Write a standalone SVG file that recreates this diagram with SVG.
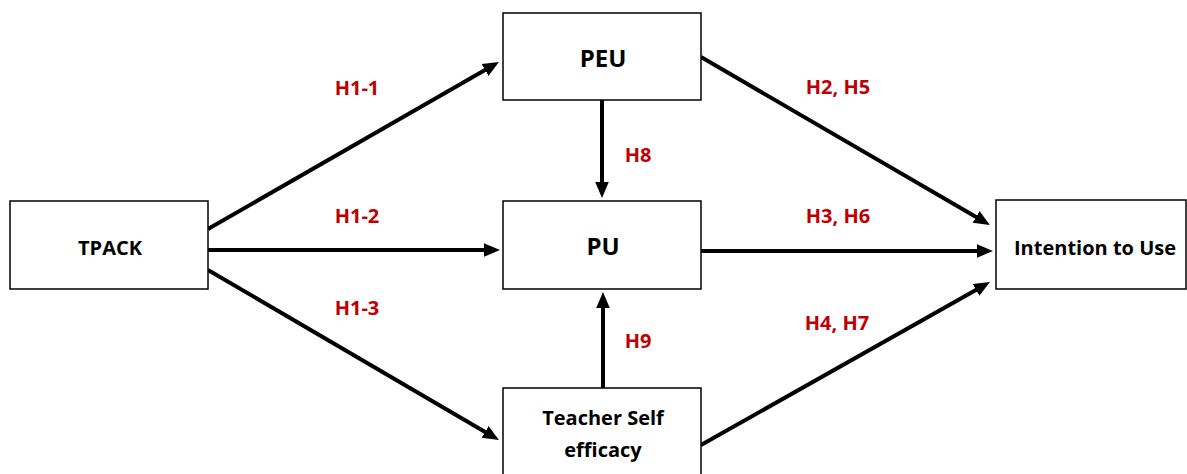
<svg xmlns="http://www.w3.org/2000/svg" width="1187" height="474" viewBox="0 0 1187 474">
<style>
.box{fill:#fff;stroke:#000;stroke-width:1.5}
.t{font-family:"Open Sans","Liberation Sans",sans-serif;font-weight:bold;fill:#000;text-anchor:middle}
.l{font-family:"Open Sans","Liberation Sans",sans-serif;font-weight:bold;fill:#c00000;font-size:20px;text-anchor:middle}
.c{stroke:#000;stroke-width:4;fill:none;marker-end:url(#ah)}
</style>
<defs>
<marker id="ah" markerWidth="4" markerHeight="4" refX="2" refY="2" orient="auto" markerUnits="strokeWidth">
<path d="M0,0.3 L4,2 L0,3.7 Z" fill="#000"/>
</marker>
</defs>
<rect width="1187" height="474" fill="#fff"/>
<g id="connectors">
<line class="c" x1="208" y1="229" x2="492" y2="66"/>
<line class="c" x1="208" y1="250" x2="492" y2="250"/>
<line class="c" x1="208" y1="270" x2="492" y2="436"/>
<line class="c" x1="701" y1="57" x2="983" y2="221"/>
<line class="c" x1="701" y1="251" x2="985" y2="251"/>
<line class="c" x1="701" y1="445" x2="983" y2="286"/>
<line class="c" x1="602" y1="100" x2="602" y2="190"/>
<line class="c" x1="603" y1="388" x2="603" y2="300"/>
</g>
<g id="labels">
<text class="l" x="357" y="95">H1-1</text>
<text class="l" x="357" y="223">H1-2</text>
<text class="l" x="357" y="315">H1-3</text>
<text class="l" x="638" y="162">H8</text>
<text class="l" x="638" y="348">H9</text>
<text class="l" x="838" y="94">H2, H5</text>
<text class="l" x="838" y="223">H3, H6</text>
<text class="l" x="837" y="330">H4, H7</text>
</g>
<g id="tpack"><rect class="box" x="10" y="201" width="198" height="88"/><text class="t" x="110" y="255" font-size="20">TPACK</text></g>
<g id="peu"><rect class="box" x="503" y="13" width="198" height="87"/><text class="t" x="603" y="67" font-size="24">PEU</text></g>
<g id="pu"><rect class="box" x="503" y="201" width="198" height="88"/><text class="t" x="603" y="255" font-size="24">PU</text></g>
<g id="tse"><rect class="box" x="503" y="388" width="198" height="95"/><text class="t" x="603" y="425" font-size="20">Teacher Self</text><text class="t" x="603" y="457" font-size="20">efficacy</text></g>
<g id="itu"><rect class="box" x="996" y="200" width="190" height="89"/><text class="t" x="1095" y="255" font-size="20">Intention to Use</text></g>
</svg>
